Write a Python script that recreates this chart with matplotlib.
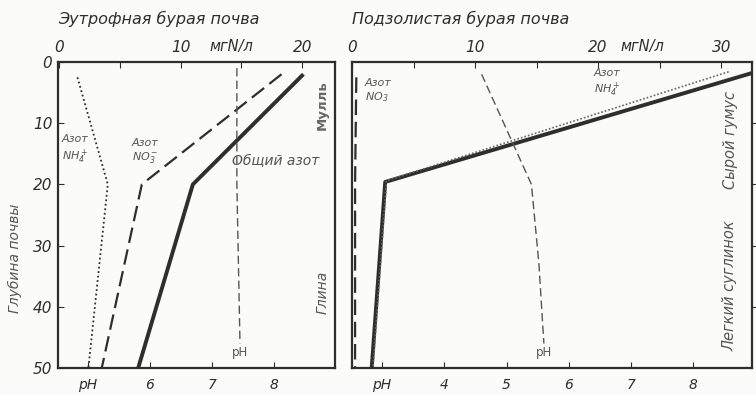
import matplotlib
matplotlib.use("Agg")
import matplotlib.pyplot as plt
from matplotlib.ticker import FixedLocator, FixedFormatter

# ---- data: soil depth (cm) against nitrogen (mg N/l) and pH ----
depth_3 = [2, 20, 50]

# Eutrophic brown soil
eu_total_n = [20.1, 11.0, 6.5]
eu_no3 = [18.3, 6.8, 3.5]
eu_nh4 = [1.5, 4.0, 2.4]
eu_nh4_depth = [2.5, 20, 50]
eu_ph = [7.40, 7.40, 7.45]
eu_ph_depth = [1, 20, 46]

# Podzolic brown soil
pod_total_n = [32.5, 2.7, 1.6]
pod_total_depth = [1.8, 19.6, 50]
pod_nh4 = [30.6, 2.8, 1.7]
pod_nh4_depth = [1.6, 19.4, 50]
pod_no3 = [0.35, 0.25, 0.25]
pod_no3_depth = [2.5, 20, 50]
pod_ph = [4.6, 5.4, 5.52, 5.6]
pod_ph_depth = [2, 20, 33, 46]

depth_ticks = [0, 10, 20, 30, 40, 50]
eu_n_ticks = [0, 5, 10, 15, 20]
eu_n_labels = ["0", "", "10", "", "20"]
pod_n_ticks = [0, 5, 10, 15, 20, 25, 30]
pod_n_labels = ["0", "", "10", "", "20", "", "30"]
eu_ph_ticks = [5, 6, 7, 8]
eu_ph_labels = ["pH", "6", "7", "8"]
pod_ph_ticks = [3, 4, 5, 6, 7, 8]
pod_ph_labels = ["pH", "4", "5", "6", "7", "8"]

INK = "#2e2e2e"
GRAY = "#555555"
BG = "#fbfbfa"

plt.rcParams["font.family"] = ["DejaVu Sans"]
plt.rcParams["mathtext.fontset"] = "dejavusans"

fig = plt.figure(figsize=(7.56, 3.95), dpi=100, facecolor=BG)

H = 395.0
W = 756.0
top_px, bot_px = 62, 368
ax1 = fig.add_axes([58 / W, (H - bot_px) / H, (335 - 58) / W, (bot_px - top_px) / H])
ax2 = fig.add_axes([352 / W, (H - bot_px) / H, (752 - 352) / W, (bot_px - top_px) / H])

def style_frame(ax):
    ax.set_facecolor(BG)
    for s in ax.spines.values():
        s.set_linewidth(1.6)
        s.set_color(INK)

def setup(ax, nlim, nticks, nlabels, phlim, phticks, phlabels, unit_x):
    style_frame(ax)
    axp = ax.twiny()
    ax.set_ylim(50, 0)
    ax.set_xlim(*nlim)
    # nitrogen scale on top
    ax.xaxis.set_ticks_position("top")
    ax.xaxis.set_label_position("top")
    ax.xaxis.set_major_locator(FixedLocator(nticks))
    ax.xaxis.set_major_formatter(FixedFormatter(nlabels))
    ax.tick_params(axis="x", direction="in", length=4, width=0.8, colors=INK,
                   labelsize=11, pad=5, labeltop=True, labelbottom=False)
    for t in ax.get_xticklabels():
        t.set_fontstyle("italic")
    ax.annotate("мгN/л", xy=(unit_x, 1.0), xycoords=("data", "axes fraction"),
                xytext=(0, 5.5), textcoords="offset points", ha="center", va="bottom",
                fontsize=10.5, fontstyle="italic", color=INK)
    # pH scale at the bottom
    axp.set_xlim(*phlim)
    axp.xaxis.set_ticks_position("bottom")
    axp.xaxis.set_label_position("bottom")
    axp.xaxis.set_major_locator(FixedLocator(phticks))
    axp.xaxis.set_major_formatter(FixedFormatter(phlabels))
    axp.tick_params(axis="x", direction="in", length=4, width=0.8, colors=INK,
                    labelsize=10, pad=7, labelbottom=True, labeltop=False)
    for t in axp.get_xticklabels():
        t.set_fontstyle("italic")
    for s in axp.spines.values():
        s.set_visible(False)
    axp.set_ylim(50, 0)
    axp.tick_params(axis="y", left=False, right=False, labelleft=False,
                    labelright=False)
    return axp

# ---- left panel ----
axp1 = setup(ax1, (-0.1, 22.7), eu_n_ticks, eu_n_labels, (4.52, 8.98),
             eu_ph_ticks, eu_ph_labels, 14.2)
ax1.yaxis.set_major_locator(FixedLocator(depth_ticks))
ax1.tick_params(axis="y", direction="in", length=4, width=0.8, colors=INK,
                labelsize=11, pad=4)
for t in ax1.get_yticklabels():
    t.set_fontstyle("italic")
ax1.set_ylabel("Глубина почвы", fontsize=10, fontstyle="italic", color=GRAY)
ax1.yaxis.set_label_coords(-0.13, 0.36)

ax1.plot(eu_total_n, depth_3, color=INK, lw=2.8, solid_capstyle="butt")
ax1.plot(eu_no3, depth_3, color=INK, lw=1.6, dashes=(7, 3))
ax1.plot(eu_nh4, eu_nh4_depth, color=INK, lw=1.3, ls=(0, (1, 1.5)))
axp1.plot(eu_ph, eu_ph_depth, color=GRAY, lw=1.0, dashes=(6, 3))
axp1.text(eu_ph[-1], 47.5, "pH", ha="center", va="center", fontsize=8.5,
          color=GRAY)

ax1.text(0.06, 0.712, "Азот\n$\\mathregular{NH_4^+}$", transform=ax1.transAxes,
         ha="center", va="center", fontsize=8, fontstyle="italic", color=GRAY,
         linespacing=1.25)
ax1.text(0.315, 0.708, "Азот\n$\\mathregular{NO_3^-}$", transform=ax1.transAxes,
         ha="center", va="center", fontsize=8, fontstyle="italic", color=GRAY,
         linespacing=1.25)
ax1.text(0.785, 0.675, "Общий азот", transform=ax1.transAxes, ha="center",
         va="center", fontsize=10, fontstyle="italic", color=GRAY)
ax1.text(0.955, 0.86, "Мулль", transform=ax1.transAxes, rotation=90,
         ha="center", va="center", fontsize=9.5, fontweight="bold", color="#666666")
ax1.text(0.955, 0.248, "Глина", transform=ax1.transAxes, rotation=90,
         ha="center", va="center", fontsize=10, fontstyle="italic", color=GRAY)
ax1.text(0.0, 1.115, "Эутрофная бурая почва", transform=ax1.transAxes,
         ha="left", va="bottom", fontsize=11.5, fontstyle="italic", color=INK)

# ---- right panel ----
axp2 = setup(ax2, (0, 32.5), pod_n_ticks, pod_n_labels, (2.52, 8.94),
             pod_ph_ticks, pod_ph_labels, 23.6)
ax2.yaxis.set_major_locator(FixedLocator([10, 20, 30, 40]))
ax2.yaxis.set_ticks_position("right")
ax2.tick_params(axis="y", direction="out", length=3, width=0.8, colors=INK,
                labelright=False, labelleft=False)

ax2.plot(pod_total_n, pod_total_depth, color=INK, lw=2.8, solid_capstyle="butt")
ax2.plot(pod_nh4, pod_nh4_depth, color="#666666", lw=1.2, ls=(0, (1, 1.2)))
ax2.plot(pod_no3, pod_no3_depth, color=INK, lw=1.6, dashes=(7, 3))
axp2.plot(pod_ph, pod_ph_depth, color=GRAY, lw=1.0, dashes=(6, 3))
axp2.text(pod_ph[-1], 47.5, "pH", ha="center", va="center", fontsize=8.5,
          color=GRAY)

ax2.text(0.032, 0.905, "Азот\n$\\mathregular{NO_3}$", transform=ax2.transAxes,
         ha="left", va="center", fontsize=8, fontstyle="italic", color=GRAY,
         linespacing=1.25)
ax2.text(0.637, 0.93, "Азот\n$\\mathregular{NH_4^+}$", transform=ax2.transAxes,
         ha="center", va="center", fontsize=8, fontstyle="italic", color=GRAY,
         linespacing=1.25)
ax2.text(0.945, 0.745, "Сырой гумус", transform=ax2.transAxes, rotation=90,
         ha="center", va="center", fontsize=10.5, fontstyle="italic", color=GRAY)
ax2.text(0.945, 0.27, "Легкий суглинок", transform=ax2.transAxes, rotation=90,
         ha="center", va="center", fontsize=10.5, fontstyle="italic", color=GRAY)
ax2.text(0.0, 1.115, "Подзолистая бурая почва", transform=ax2.transAxes,
         ha="left", va="bottom", fontsize=11.5, fontstyle="italic", color=INK)

fig.savefig("out.png", dpi=100, facecolor=BG)
